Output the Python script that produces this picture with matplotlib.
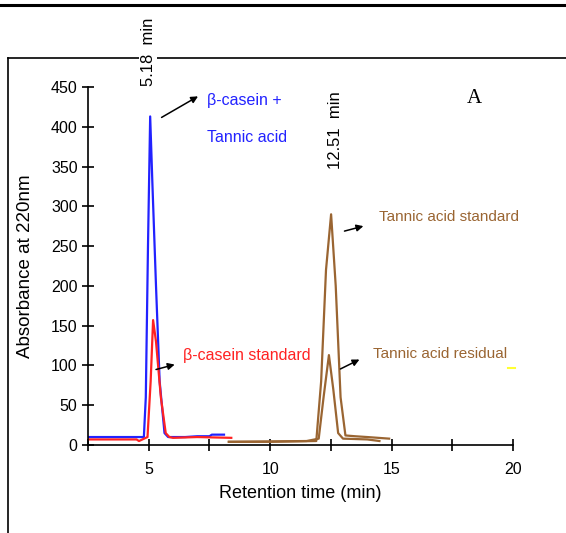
import matplotlib
matplotlib.use("Agg")
import matplotlib.pyplot as plt
from matplotlib.lines import Line2D

plt.rcParams['font.family'] = ['Liberation Sans', 'DejaVu Sans']

# chromatogram traces
blue_x = [2.5, 4.8, 4.88, 4.97, 5.06, 5.15, 5.3, 5.45, 5.65, 5.8, 6.5, 7.0, 7.5, 7.6, 8.1]
blue_y = [10, 10, 60, 250, 413, 330, 200, 80, 15, 10, 10, 11, 11, 13, 13]

red_x = [2.5, 4.5, 4.6, 4.95, 5.08, 5.18, 5.3, 5.5, 5.7, 5.85, 6.0, 7.0, 8.4]
red_y = [7, 7, 5, 10, 80, 157, 130, 60, 15, 10, 9, 10, 9]

tas_x = [8.3, 10.0, 11.9, 12.1, 12.3, 12.51, 12.7, 12.9, 13.1, 13.5, 14.0, 14.9]
tas_y = [4, 4, 5, 80, 220, 290, 200, 60, 12, 11, 10, 8]

tar_x = [8.3, 11.5, 12.0, 12.2, 12.42, 12.6, 12.8, 13.0, 14.0, 14.5]
tar_y = [4, 5, 8, 60, 113, 70, 15, 8, 7, 5]

xticks = [5, 10, 15, 20]
yticks = [0, 50, 100, 150, 200, 250, 300, 350, 400, 450]

blue = '#2222ff'
red = '#ff2222'
brown = '#9a6532'

fig = plt.figure(figsize=(5.66, 5.33), dpi=100)
ax = fig.add_axes([88/566, 1-445/533, 425/566, 358/533])

ax.plot(blue_x, blue_y, color=blue, lw=1.6)
ax.plot(red_x, red_y, color=red, lw=1.6)
ax.plot(tas_x, tas_y, color=brown, lw=1.6)
ax.plot(tar_x, tar_y, color=brown, lw=1.6)

ax.set_xlim(2.5, 20)
ax.set_ylim(0, 450)
ax.set_xticks(xticks)
ax.set_xticks([2.5, 7.5, 12.5, 17.5], minor=True)
ax.set_yticks(yticks)
ax.tick_params(axis='both', labelsize=11.5, direction='inout', length=8, width=1.2)
ax.tick_params(axis='x', which='minor', direction='inout', length=8, width=1.2)
ax.tick_params(axis='x', pad=8)
for s in ['top', 'right']:
    ax.spines[s].set_visible(False)
for s in ['left', 'bottom']:
    ax.spines[s].set_linewidth(1.2)
ax.set_xlabel('Retention time (min)', fontsize=13, labelpad=6)
ax.set_ylabel('Absorbance at 220nm', fontsize=13.5, labelpad=12)

arrow = dict(arrowstyle='-|>', color='black', lw=1.1, mutation_scale=10)

ax.annotate('', xy=(7.13, 440), xytext=(5.43, 410), arrowprops=arrow, annotation_clip=False)
ax.text(7.4, 433, 'β-casein +', color=blue, fontsize=11.5, va='center')
ax.text(7.4, 387, 'Tannic acid', color=blue, fontsize=11.5, va='center')

ax.annotate('', xy=(6.18, 102), xytext=(5.19, 94), arrowprops=arrow)
ax.text(6.4, 112, 'β-casein standard', color=red, fontsize=11.5, va='center')

ax.annotate('', xy=(13.95, 276), xytext=(12.95, 268), arrowprops=arrow)
ax.text(14.48, 287, 'Tannic acid standard', color=brown, fontsize=11, va='center')

ax.annotate('', xy=(13.78, 109), xytext=(12.79, 94), arrowprops=arrow)
ax.text(14.24, 114, 'Tannic acid residual', color=brown, fontsize=11, va='center')

ax.text(12.68, 396, '12.51  min', rotation=90, fontsize=12, ha='center', va='center')
ax.text(18.08, 435, 'A', fontsize=15, family='Liberation Serif', va='center')

# outer frame lines
fig.add_artist(Line2D([0, 1], [1-5/533, 1-5/533], color='black', lw=2.2))
fig.add_artist(Line2D([8/566, 1], [1-58/533, 1-58/533], color='black', lw=1.2))
fig.add_artist(Line2D([8/566, 8/566], [0, 1-58/533], color='black', lw=1.2))
fig.text(148/566, 1-52/533, '5.18  min', rotation=90, fontsize=12, ha='center', va='center',
         bbox=dict(facecolor='white', edgecolor='none', pad=1))
fig.add_artist(Line2D([508/566, 515/566], [1-368/533, 1-368/533], color='#ffff33', lw=1.5))

fig.savefig('out.png', dpi=100)
